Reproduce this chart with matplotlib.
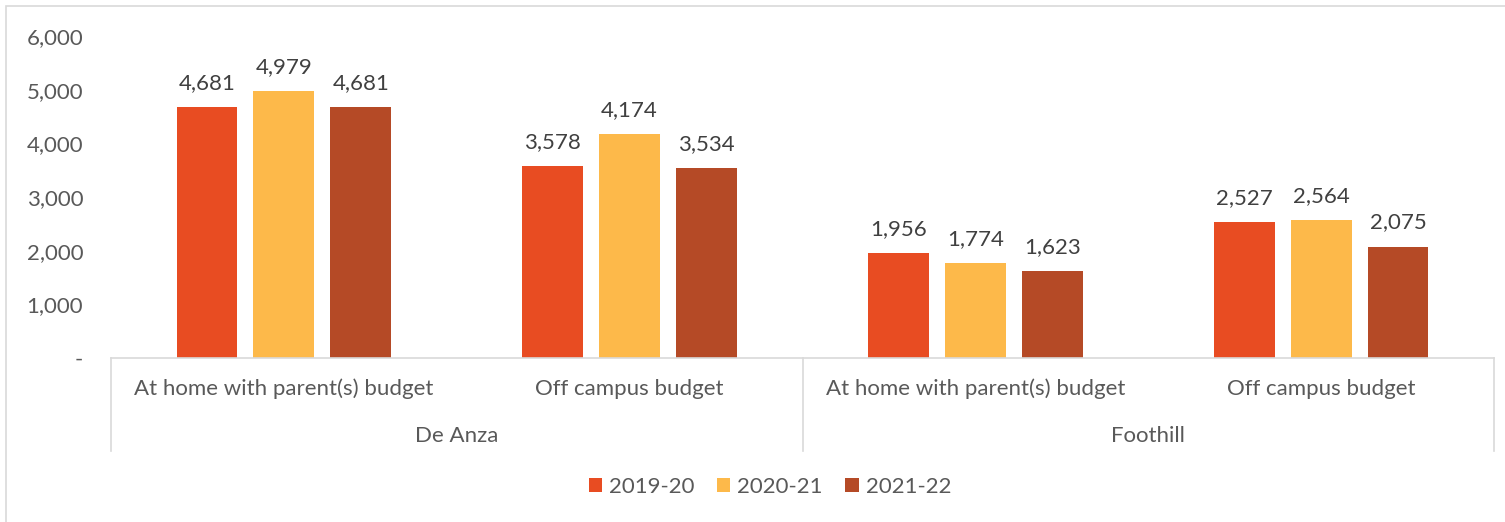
import matplotlib
matplotlib.use("Agg")
import matplotlib.pyplot as plt
from matplotlib.patches import Rectangle
from matplotlib.lines import Line2D
import numpy as np

groups = ["De Anza", "Foothill"]
categories = ["At home with parent(s) budget", "Off campus budget",
              "At home with parent(s) budget", "Off campus budget"]
series_names = ["2019-20", "2020-21", "2021-22"]
v2019 = [4681, 3578, 1956, 2527]
v2020 = [4979, 4174, 1774, 2564]
v2021 = [4681, 3534, 1623, 2075]
colors = ["#E84C22", "#FDB94A", "#B54A26"]
yticks = [0, 1000, 2000, 3000, 4000, 5000, 6000]
ytick_labels = ["-", "1,000", "2,000", "3,000", "4,000", "5,000", "6,000"]

plt.rcParams['font.family'] = ['Lato', 'DejaVu Sans']
FS = 16
W, H = 1505, 522
fig = plt.figure(figsize=(W / 100, H / 100), dpi=100)

# outer chart border (left and top visible; right/bottom cropped)
fig.patches.append(Rectangle((6 / W, -0.05), 1.1, (H - 6) / H + 0.05, transform=fig.transFigure,
                             fill=False, edgecolor="#D9D9D9", linewidth=1.2))

left_px, right_px, bottom_px, top_px = 111, 1494, 358, 36
ax = fig.add_axes([left_px / W, (H - bottom_px) / H,
                   (right_px - left_px) / W, (bottom_px - top_px) / H])

x = np.arange(len(categories))
bw = 0.176
step = 0.2225
series = [v2019, v2020, v2021]
for i, (vals, c, name) in enumerate(zip(series, colors, series_names)):
    xs = x + (i - 1) * step
    ax.bar(xs, vals, width=bw, color=c, label=name, zorder=2)
    for xi, v in zip(xs, vals):
        ax.annotate(f"{v:,}", (xi, v), xytext=(0, 13), textcoords="offset points",
                    ha="center", va="baseline", fontsize=FS, color="#404040")

ax.set_xlim(-0.5, len(categories) - 0.5)
ax.set_ylim(0, 6000)
ax.set_yticks(yticks)
ax.set_yticklabels(ytick_labels, fontsize=FS, color="#595959")
ax.tick_params(axis="y", length=0, pad=20)
ax.set_xticks([])
for s in ["top", "right", "left"]:
    ax.spines[s].set_visible(False)
ax.spines["bottom"].set_color("#D9D9D9")
ax.spines["bottom"].set_linewidth(1.2)

# multi-level category axis
trans = ax.get_xaxis_transform()
ax_h_px = bottom_px - top_px
def yax(py):
    return (bottom_px - py) / ax_h_px

for xb in [-0.5, 1.5, 3.5]:
    ax.add_line(Line2D([xb, xb], [0, yax(451)], transform=trans, color="#D9D9D9",
                       linewidth=1.2, clip_on=False))
for xi, cat in zip(x, categories):
    ax.text(xi, yax(389), cat, transform=trans, ha="center", va="center",
            fontsize=FS, color="#595959")
for gi, g in enumerate(groups):
    ax.text(gi * 2 + 0.5, yax(436), g, transform=trans, ha="center", va="center",
            fontsize=FS, color="#595959")

leg = fig.legend(loc="center", bbox_to_anchor=(770 / W, (H - 487) / H), ncol=3,
                 frameon=False, fontsize=FS, handlelength=0.6, handleheight=0.6,
                 handletextpad=0.32, columnspacing=1.0, labelcolor="#595959")

fig.savefig("out.png", dpi=100, facecolor="white")
